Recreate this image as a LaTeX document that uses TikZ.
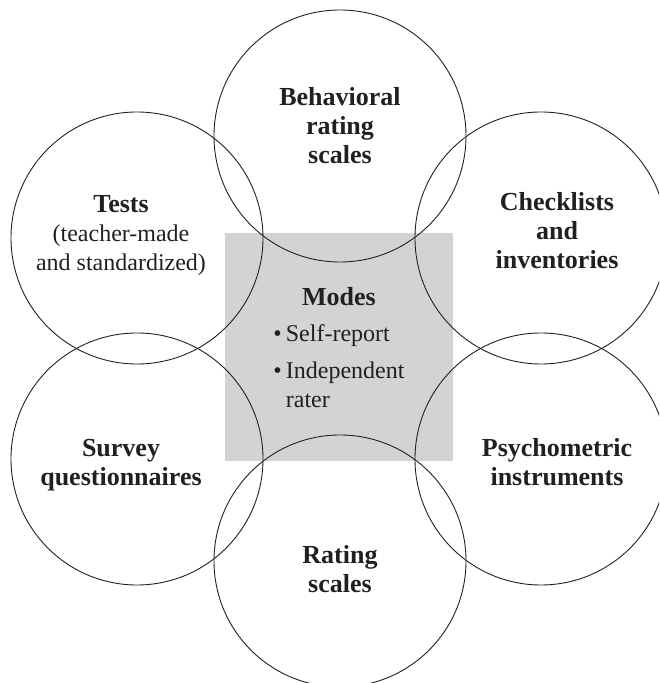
\documentclass[tikz,border=0pt]{standalone}
\usepackage{fontspec}
\setmainfont{Liberation Serif}
\usetikzlibrary{positioning}
\definecolor{boxgray}{RGB}{209,211,212}
\definecolor{inkblack}{RGB}{35,31,32}
\newcommand{\ringhead}[1]{{\fontsize{26}{29}\selectfont\bfseries #1}}
\tikzset{
  ring/.style={circle,draw=inkblack,line width=0.9pt,minimum size=252pt,inner sep=0pt},
  ringtext/.style={align=center,text=inkblack,font=\fontsize{24}{29}\selectfont},
}

\begin{document}
\begin{tikzpicture}[x=1pt,y=1pt]
  \clip (0,0) rectangle (659,683);

  % grey square behind the middle
  \fill[boxgray] (225,222) rectangle (453,450);

  % the six overlapping circles
  \node[ring] (beh)   at (340,547) {};
  \node[ring] (tests) at (137,445) {};
  \node[ring] (check) at (541,445) {};
  \node[ring] (surv)  at (137,224) {};
  \node[ring] (psych) at (541,224) {};
  \node[ring] (rate)  at (340,122) {};

  \node[ringtext] (beh-t)   at ([yshift=10pt]beh.center) {\ringhead{Behavioral}\\\ringhead{rating}\\\ringhead{scales}};
  \node[ringtext] (tests-t) at ([shift={(-16pt,2pt)}]tests.center) {\ringhead{Tests}\\(teacher-made\\and standardized)};
  \node[ringtext] (check-t) at ([shift={(16pt,7pt)}]check.center) {\ringhead{Checklists}\\\ringhead{and}\\\ringhead{inventories}};
  \node[ringtext] (surv-t)  at ([shift={(-16pt,-6pt)}]surv.center) {\ringhead{Survey}\\\ringhead{questionnaires}};
  \node[ringtext] (psych-t) at ([shift={(16pt,-3pt)}]psych.center) {\ringhead{Psychometric}\\\ringhead{instruments}};
  \node[ringtext] (rate-t)  at ([yshift=-8pt]rate.center) {\ringhead{Rating}\\\ringhead{scales}};

  % centre: modes
  \node[ringtext] (modes) at (339,386) {\ringhead{Modes}};
  \node[ringtext,below=8pt of modes] (modelist) {%
    \begin{tabular}{@{}l@{\hspace{4pt}}l@{}}
      \textbullet & Self-report\\[8pt]
      \textbullet & Independent\\
                  & rater
    \end{tabular}};
\end{tikzpicture}
\end{document}
